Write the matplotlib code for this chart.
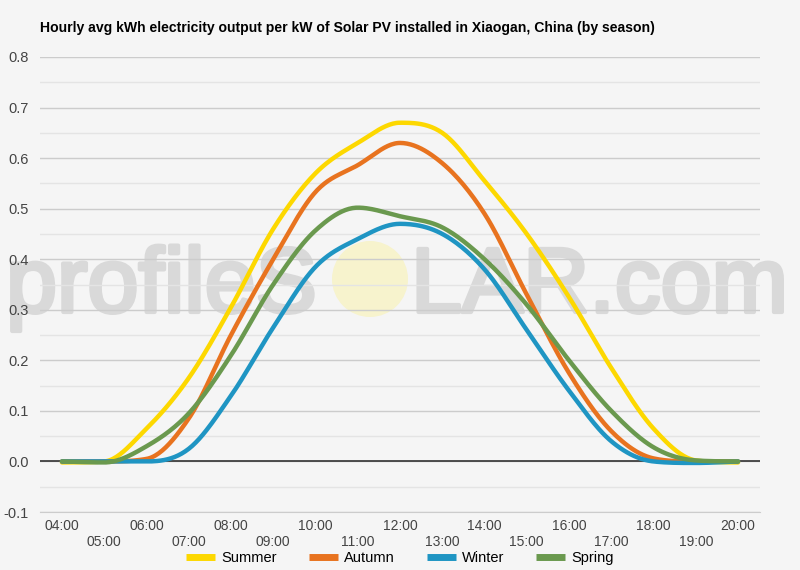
import numpy as np
import matplotlib.pyplot as plt
import matplotlib.patheffects as pe
from matplotlib.patches import Ellipse

plt.rcParams['font.family'] = ['Liberation Sans', 'DejaVu Sans']

# donnees
hours = list(range(4, 21))
hour_labels = ["%02d:00" % h for h in hours]

summer = [-0.002, 0.0, 0.065, 0.165, 0.305, 0.46, 0.57, 0.63, 0.67, 0.65, 0.555, 0.45, 0.325, 0.185, 0.065, 0.002, -0.002]
autumn = [0.0, 0.0, 0.005, 0.085, 0.25, 0.40, 0.533, 0.586, 0.63, 0.59, 0.49, 0.33, 0.175, 0.06, 0.006, 0.0, 0.0]
winter = [0.0, 0.0, 0.0, 0.025, 0.13, 0.265, 0.385, 0.44, 0.47, 0.45, 0.38, 0.26, 0.14, 0.04, 0.0, -0.003, 0.0]
spring = [0.0, -0.002, 0.03, 0.095, 0.21, 0.35, 0.457, 0.502, 0.485, 0.463, 0.40, 0.31, 0.20, 0.10, 0.028, 0.002, 0.0]

series = [("Summer", summer, "#fdd800"),
          ("Autumn", autumn, "#e8731f"),
          ("Winter", winter, "#1f95c3"),
          ("Spring", spring, "#6a994e")]


def smooth(x, y, n=24):
    # courbe lissee (pentes centrees, limitees facon fritsch-carlson)
    x = np.asarray(x, float)
    y = np.asarray(y, float)
    h = np.diff(x)
    d = np.diff(y) / h
    m = np.gradient(y, x)
    for i in range(len(d)):
        if d[i] == 0:
            m[i] = m[i + 1] = 0.0
            continue
        a, b = m[i] / d[i], m[i + 1] / d[i]
        if a < 0:
            m[i] = 0.0
            a = 0.0
        if b < 0:
            m[i + 1] = 0.0
            b = 0.0
        s = a * a + b * b
        if s > 9:
            tau = 3 / np.sqrt(s)
            m[i] = tau * a * d[i]
            m[i + 1] = tau * b * d[i]
    xs, ys = [], []
    for i in range(len(x) - 1):
        t = np.linspace(0, 1, n, endpoint=False)
        h00 = 2 * t**3 - 3 * t**2 + 1
        h10 = t**3 - 2 * t**2 + t
        h01 = -2 * t**3 + 3 * t**2
        h11 = t**3 - t**2
        xs.append(x[i] + t * h[i])
        ys.append(h00 * y[i] + h10 * h[i] * m[i] + h01 * y[i + 1] + h11 * h[i] * m[i + 1])
    xs.append([x[-1]])
    ys.append([y[-1]])
    return np.concatenate(xs), np.concatenate(ys)


bg = "#f5f5f5"
fig = plt.figure(figsize=(8, 5.7), dpi=100, facecolor=bg)
ax = fig.add_axes([40 / 800, 1 - 512 / 570, 720 / 800, 455 / 570])
ax.patch.set_alpha(0)

# filigrane
wm = "#d9d9d9"
fx = [pe.withStroke(linewidth=3, foreground=wm)]
fig.text(6 / 800, 1 - 312 / 570, "profileS", fontsize=66, color=wm,
         zorder=-1, ha="left", va="baseline", path_effects=fx)
fig.text(411 / 800, 1 - 312 / 570, "LAR.com", fontsize=66, color=wm,
         zorder=-1, ha="left", va="baseline", path_effects=fx)
fig.patches.append(Ellipse((370 / 800, 1 - 279 / 570), 76 / 800, 76 / 570, transform=fig.transFigure,
                           facecolor="#f7f3cd", edgecolor="none", zorder=-1))

for name, vals, col in series:
    xs, ys = smooth(hours, vals)
    ax.plot(xs, ys, color=col, lw=3.2, label=name, solid_capstyle="round", zorder=3)

ax.set_xlim(3.48, 20.52)
ax.set_ylim(-0.1, 0.8)
yt = np.arange(-0.1, 0.81, 0.1)
ax.set_yticks(yt)
ax.set_yticklabels(["%.1f" % v for v in yt])
ax.set_yticks(np.arange(-0.05, 0.8, 0.1), minor=True)
ax.grid(axis="y", which="major", color="#cccccc", lw=1)
ax.grid(axis="y", which="minor", color="#e4e4e4", lw=1)
ax.axhline(0, color="#333333", lw=1.2, zorder=2)

ax.set_xticks(hours)
ax.set_xticklabels([lab if i % 2 == 0 else "\n" + lab for i, lab in enumerate(hour_labels)])
ax.tick_params(axis="x", length=0, pad=5, labelsize=10, colors="#444444")
ax.tick_params(axis="y", length=0, pad=8, labelsize=10.5, colors="#444444")
ax.tick_params(which="minor", length=0)
for s in ["top", "right", "left"]:
    ax.spines[s].set_visible(False)
ax.spines["bottom"].set_color("#cccccc")

fig.text(40 / 800, 1 - 28 / 570, "Hourly avg kWh electricity output per kW of Solar PV installed in Xiaogan, China (by season)",
         fontsize=10.1, fontweight="bold", va="center", ha="left")

leg = fig.legend(loc="center", bbox_to_anchor=(0.5, 1 - 558 / 570), ncol=4, frameon=False, fontsize=10.5,
                 handlelength=2.0, handletextpad=0.4, columnspacing=2.2)
for line in leg.get_lines():
    line.set_linewidth(5)
    line.set_solid_capstyle("butt")

plt.savefig("out.png", dpi=100, facecolor=bg)
